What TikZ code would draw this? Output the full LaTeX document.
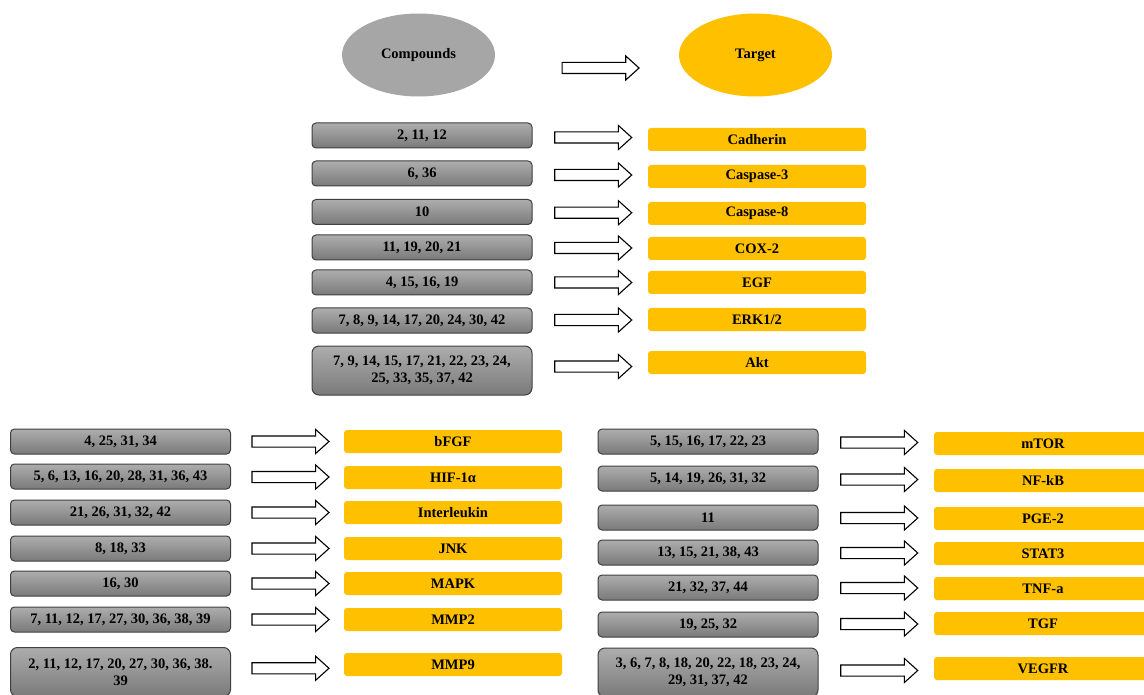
\documentclass[tikz,border=0pt]{standalone}
\usepackage{fontspec}
\setmainfont{Liberation Serif}
\usepackage{tikz}
\usetikzlibrary{calc,shapes.geometric,shapes.arrows}
\definecolor{cmpdgray}{HTML}{A6A6A6}
\definecolor{targetorange}{HTML}{FFC000}
\definecolor{boxtop}{HTML}{ADADAD}
\definecolor{boxbottom}{HTML}{7A7A7A}
\tikzset{
  labelfont/.style={font=\bfseries\fontsize{14.5}{17.5}\selectfont},
  compound/.style={labelfont, draw=black!75, line width=1pt, rounded corners=4pt,
    top color=boxtop, bottom color=boxbottom, minimum width=220pt,
    minimum height=25pt, inner sep=2pt, align=center},
  onerow/.style={},
  tworow/.style={minimum height=49pt, rounded corners=7pt},
  target/.style={labelfont, fill=targetorange, rounded corners=3pt,
    minimum width=218pt, minimum height=23pt, inner sep=0pt},
  blockarrow/.style={single arrow, draw=black, line width=1.1pt, fill=white,
    minimum height=77pt, inner xsep=0pt, inner ysep=5pt, text height=0pt,
    text depth=0pt, single arrow head extend=6.5pt, single arrow tip angle=84},
  legend/.style={ellipse, labelfont, minimum width=153pt, minimum height=83pt}
}
\newcommand*{\TargetColumn}[4]{% #1 = name, #2 = list of yc/yt/rows/compounds/target, #3 = x compounds, #4 = x target
\foreach \yc/\yt/\rows/\comp/\targ [count=\i] in {#2} {
\node [compound, \rows] (#1c\i) at (#3, \yc) {\comp};
\node [target] (#1t\i) at (#4, \yt) {\targ};
\node [blockarrow] (#1a\i) at ($(#1c\i.east)!0.5!(#1t\i.west)$) {};
}%
}

\begin{document}
\begin{tikzpicture}[x=1pt, y=-1pt]
            \clip (0, 0) rectangle (1144, 695);
            \fill [white] (0, 0) rectangle (1144, 695);

            % legend
            \node [legend, fill=cmpdgray] (compounds) at (418.5, 55) {Compounds};
            \node [legend, fill=targetorange] (target) at (755.5, 55) {Target};
            \node [blockarrow] (legendarrow) at (597.5, 68) {};

            \TargetColumn{top}{135.5/139.5/onerow/{2, 11, 12}/Cadherin,
                173.5/176.5/onerow/{6, 36}/Caspase-3,
                212/213.5/onerow/{10}/Caspase-8,
                247.5/248.5/onerow/{11, 19, 20, 21}/COX-2,
                282.5/282.5/onerow/{4, 15, 16, 19}/EGF,
                320.5/319.5/onerow/{7, 8, 9, 14, 17, 20, 24, 30, 42}/{ERK1/2},
                370.5/362.5/tworow/{7, 9, 14, 15, 17, 21, 22, 23, 24,\\ 25, 33, 35, 37, 42}/Akt}{422}{757}

            \TargetColumn{left}{441.5/441.5/onerow/{4, 25, 31, 34}/bFGF,
                476.5/477.5/onerow/{5, 6, 13, 16, 20, 28, 31, 36, 43}/HIF-1α,
                512.5/512.5/onerow/{21, 26, 31, 32, 42}/Interleukin,
                548.5/548.5/onerow/{8, 18, 33}/JNK,
                583.5/583.5/onerow/{16, 30}/MAPK,
                619.5/619.5/onerow/{7, 11, 12, 17, 27, 30, 36, 38, 39}/MMP2,
                672/664.5/tworow/{2, 11, 12, 17, 20, 27, 30, 36, 38.\\ 39}/MMP9}{120.5}{453}

            \TargetColumn{right}{441.5/443.5/onerow/{5, 15, 16, 17, 22, 23}/mTOR,
                478.5/480.5/onerow/{5, 14, 19, 26, 31, 32}/NF-kB,
                517.5/518.5/onerow/{11}/PGE-2,
                552.5/553.5/onerow/{13, 15, 21, 38, 43}/STAT3,
                587.5/588.5/onerow/{21, 32, 37, 44}/TNF-a,
                624.5/623.5/onerow/{19, 25, 32}/TGF,
                672.5/668.5/tworow/{3, 6, 7, 8, 18, 20, 22, 18, 23, 24,\\ 29, 31, 37, 42}/VEGFR}{708}{1043}
        \end{tikzpicture}
\end{document}
